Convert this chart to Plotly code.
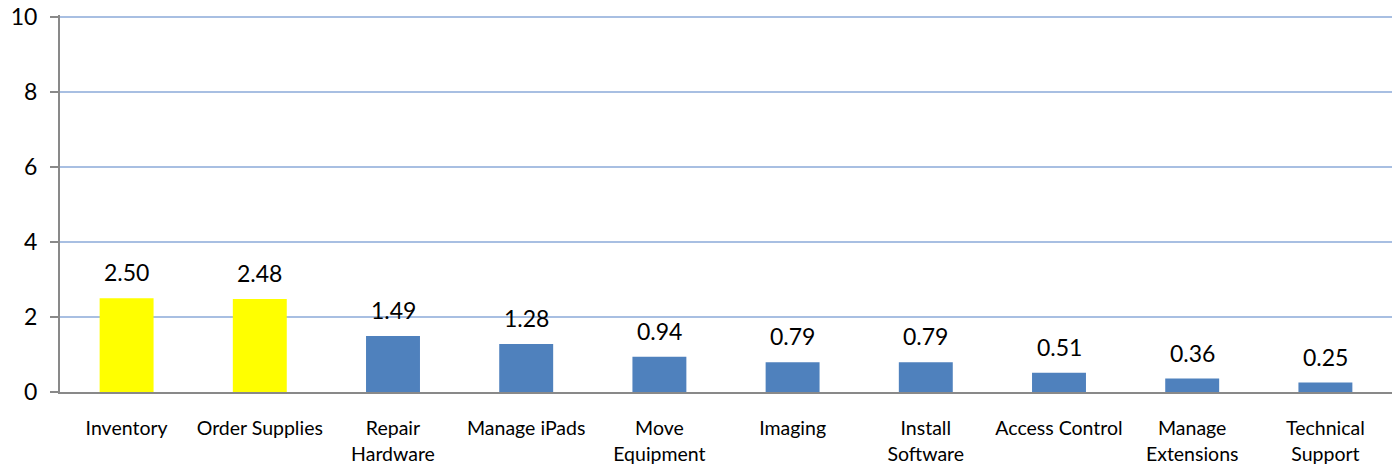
import plotly.graph_objects as go

categories = ["Inventory", "Order Supplies", "Repair<br>Hardware", "Manage iPads", "Move<br>Equipment",
              "Imaging", "Install<br>Software", "Access Control", "Manage<br>Extensions", "Technical<br>Support"]
values = [2.50, 2.48, 1.49, 1.28, 0.94, 0.79, 0.79, 0.51, 0.36, 0.25]
colors = ["#FFFF00", "#FFFF00"] + ["#4F81BD"] * 8
y_ticks = [0, 2, 4, 6, 8, 10]

FONT = "Lato, Open Sans, sans-serif"

fig = go.Figure()
fig.add_trace(go.Bar(
    x=categories, y=values, marker=dict(color=colors, line=dict(width=0)),
    width=0.405, showlegend=False,
))
for c, v in zip(categories, values):
    fig.add_annotation(x=c, y=v, text=f"{v:.2f}", showarrow=False, yanchor="bottom",
                       yshift=10, font=dict(family=FONT, size=23, color="#000"))

fig.update_layout(
    width=1392, height=467,
    margin=dict(l=60, r=0, t=15, b=75),
    plot_bgcolor="white", paper_bgcolor="white",
    font=dict(family=FONT, color="#000"),
)
fig.update_xaxes(
    showline=True, linecolor="#898989", linewidth=2, automargin=False,
    tickfont=dict(size=19.5), ticklabelstandoff=18, ticks="",
)
fig.update_yaxes(
    range=[0, 10.05], tickvals=y_ticks, showline=True, linecolor="#898989", linewidth=2,
    ticks="outside", ticklen=8, tickcolor="#898989", tickwidth=2, automargin=False,
    gridcolor="#A8BFE2", gridwidth=2, zeroline=False,
    tickfont=dict(size=23), ticklabelstandoff=8, ticklabeloverflow="allow",
)
fig.write_html("out.html", config={"displayModeBar": False},
               post_script="document.body.style.margin='0';")
